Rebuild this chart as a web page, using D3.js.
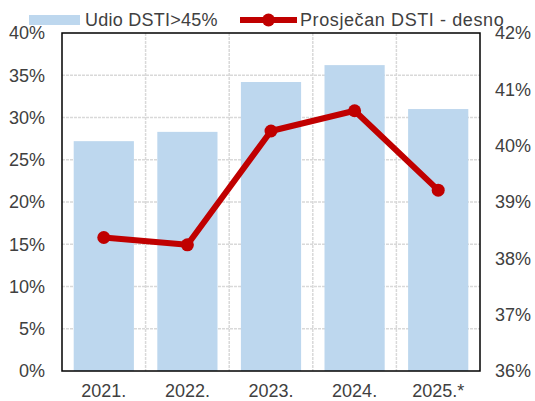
<!DOCTYPE html>
<html>
<head>
<meta charset="utf-8">
<script src="https://cdn.jsdelivr.net/npm/d3@7/dist/d3.min.js"></script>
<style>
  html, body { margin: 0; padding: 0; background: #fff; }
  svg { display: block; font-family: "Liberation Sans", Arial, sans-serif; }
</style>
</head>
<body>
<svg id="chart" width="535" height="401"></svg>
<script>
// Categories and series
const years = ["2021.", "2022.", "2023.", "2024.", "2025.*"];
const shareAbove45 = [27.2, 28.3, 34.2, 36.2, 31.0];   // % of loans with DSTI > 45% (left axis)
const avgDsti = [38.37, 38.24, 40.26, 40.62, 39.21];    // average DSTI, % (right axis)
const leftTicks = [0, 5, 10, 15, 20, 25, 30, 35, 40];
const rightTicks = [36, 37, 38, 39, 40, 41, 42];
const legendLabels = ["Udio DSTI>45%", "Prosječan DSTI - desno"];

const svg = d3.select("#chart");
const m = { left: 62, right: 480, top: 33, bottom: 371 };
const textColor = "#404040";

const x = d3.scaleBand().domain(years).range([m.left, m.right]).paddingInner(0.28).paddingOuter(0.14);
const xBand = d3.scaleBand().domain(years).range([m.left, m.right]);
const yL = d3.scaleLinear().domain([0, 40]).range([m.bottom, m.top]);
const yR = d3.scaleLinear().domain([36, 42]).range([m.bottom, m.top]);

// Gridlines
const grid = svg.append("g").attr("stroke", "#d9d9d9").attr("stroke-width", 1.5).attr("stroke-dasharray", "3,1");
grid.selectAll("line.h").data(leftTicks.slice(1, -1)).join("line")
  .attr("x1", m.left).attr("x2", m.right)
  .attr("y1", d => yL(d)).attr("y2", d => yL(d));
grid.selectAll("line.v").data(years.slice(1)).join("line")
  .attr("x1", d => xBand(d)).attr("x2", d => xBand(d))
  .attr("y1", m.top).attr("y2", m.bottom);

// Bars
svg.append("g").selectAll("rect").data(years).join("rect")
  .attr("x", d => x(d))
  .attr("width", x.bandwidth())
  .attr("y", (d, i) => yL(shareAbove45[i]))
  .attr("height", (d, i) => yL(0) - yL(shareAbove45[i]))
  .attr("fill", "#bdd7ee");

// Plot frame
svg.append("rect")
  .attr("x", m.left).attr("y", m.top)
  .attr("width", m.right - m.left).attr("height", m.bottom - m.top)
  .attr("fill", "none").attr("stroke", "#000").attr("stroke-width", 1.5);

// Line series on right axis
const cx = d => xBand(d) + xBand.bandwidth() / 2;
const line = d3.line().x((d, i) => cx(years[i])).y(d => yR(d));
svg.append("path").datum(avgDsti)
  .attr("d", line)
  .attr("fill", "none").attr("stroke", "#c00000").attr("stroke-width", 6)
  .attr("stroke-linejoin", "round");
svg.append("g").selectAll("circle").data(avgDsti).join("circle")
  .attr("cx", (d, i) => cx(years[i]))
  .attr("cy", d => yR(d))
  .attr("r", 6.5)
  .attr("fill", "#c00000");

// Axes
const axisL = d3.axisLeft(yL).tickValues(leftTicks).tickFormat(d => d + "%").tickSize(0).tickPadding(0);
const gL = svg.append("g").attr("transform", `translate(${m.left - 17},0)`).call(axisL);
const axisR = d3.axisRight(yR).tickValues(rightTicks).tickFormat(d => d + "%").tickSize(0).tickPadding(0);
const gR = svg.append("g").attr("transform", `translate(${m.right + 15},0)`).call(axisR);
const axisB = d3.axisBottom(xBand).tickSize(0).tickPadding(0);
const gB = svg.append("g").attr("transform", `translate(0,${m.bottom + 13})`).call(axisB);
[gL, gR, gB].forEach(g => {
  g.select(".domain").remove();
  g.selectAll("text").attr("fill", textColor).attr("font-size", 18)
    .attr("font-family", "'Liberation Sans', Arial, sans-serif");
});

// Legend
const lg = svg.append("g");
lg.append("rect").attr("x", 29).attr("y", 15).attr("width", 51).attr("height", 10).attr("fill", "#bdd7ee");
lg.append("text").attr("x", 85).attr("y", 26).attr("font-size", 18)
  .attr("letter-spacing", 0.25).attr("fill", textColor).text(legendLabels[0]);
lg.append("line").attr("x1", 240).attr("x2", 297).attr("y1", 20).attr("y2", 20)
  .attr("stroke", "#c00000").attr("stroke-width", 6);
lg.append("circle").attr("cx", 268.5).attr("cy", 20).attr("r", 6.5).attr("fill", "#c00000");
lg.append("text").attr("x", 300).attr("y", 26).attr("font-size", 18)
  .attr("letter-spacing", 0.6).attr("fill", textColor).text(legendLabels[1]);
</script>
</body>
</html>
